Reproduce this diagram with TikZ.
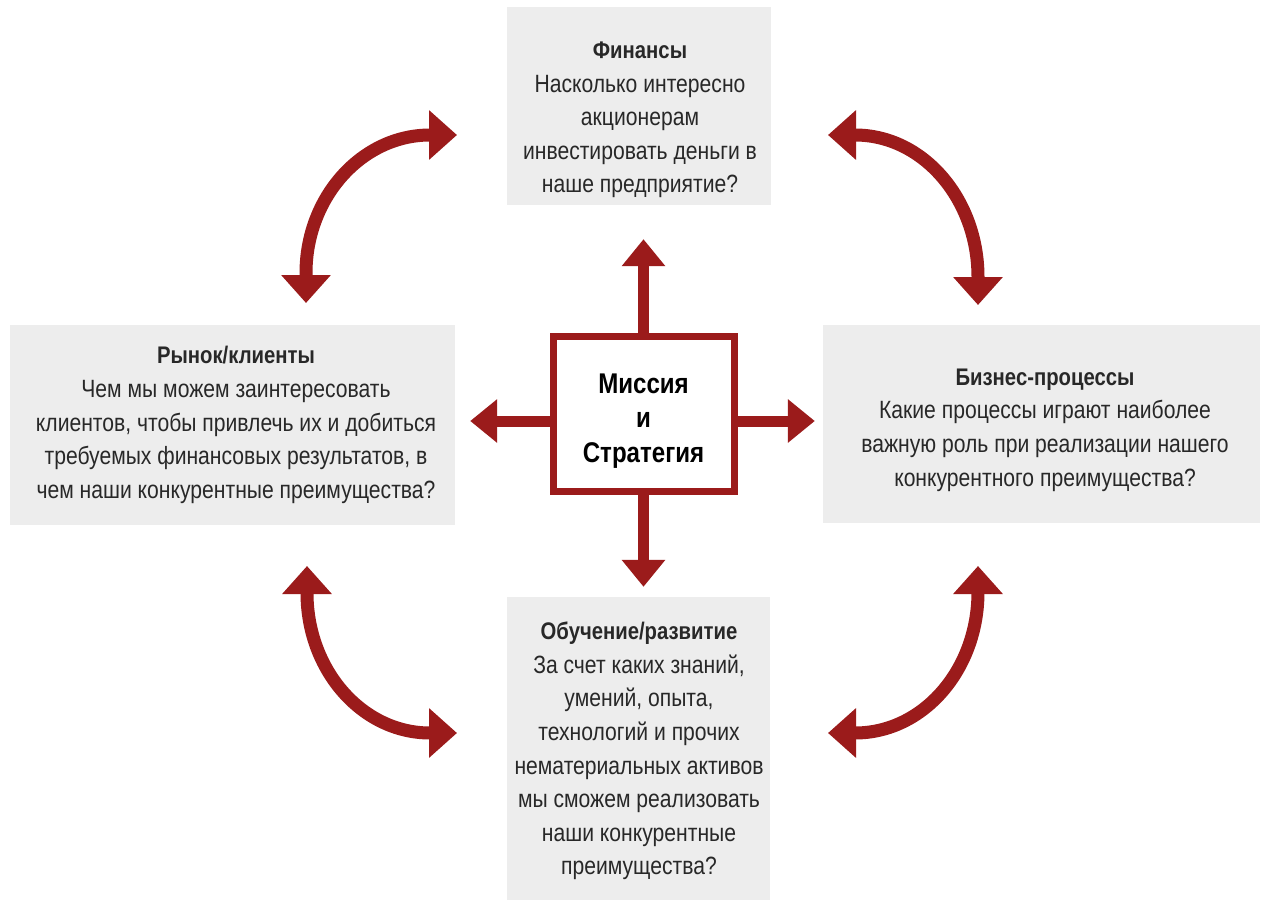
\documentclass[tikz,border=0pt]{standalone}
\usepackage{fontspec}
\setmainfont{Liberation Sans}[FakeStretch=0.845]
\usetikzlibrary{arrows.meta}
\definecolor{arrred}{RGB}{155,27,27}
\definecolor{boxgrey}{RGB}{237,237,237}
\definecolor{txtgrey}{RGB}{40,40,40}
\begin{document}
\begin{tikzpicture}[x=1pt,y=-1pt,
  box/.style={fill=boxgrey, draw=none, inner sep=0pt},
  txt/.style={align=center, text=txtgrey, font=\fontsize{25}{33.6}\selectfont, inner sep=0pt},
  missionbox/.style={draw=arrred, line width=7pt, fill=white, minimum width=181pt, minimum height=155pt},
  missiontxt/.style={align=center, inner sep=0pt, font=\fontsize{28.5}{34.5}\selectfont\bfseries, text=black},
  straight/.style={draw=arrred, line width=11pt, -{Triangle[width=42pt,length=27pt]}},
  curved/.style={draw=arrred, line width=13pt, {Triangle[width=48pt,length=28pt]}-{Triangle[width=48pt,length=28pt]}}
]
\useasboundingbox (0,0) rectangle (1264,908);
\fill[white] (0,0) rectangle (1264,908);

% grey boxes
\node[box, minimum width=264pt, minimum height=198pt] (fin) at (639,106) {};
\node[box, minimum width=445pt, minimum height=200pt] (mkt) at (232.5,425) {};
\node[box, minimum width=437pt, minimum height=198pt] (biz) at (1041.5,424) {};
\node[box, minimum width=263pt, minimum height=303pt] (edu) at (638.5,748.5) {};

% texts
\node[txt] (fint) at (640,120) {{\bfseries\fontsize{24}{33.6}\selectfont Финансы}\\Насколько интересно\\акционерам\\инвестировать деньги в\\наше предприятие?};
\node[txt] (mktt) at (236,425) {{\bfseries\fontsize{24}{33.6}\selectfont Рынок/клиенты}\\Чем мы можем заинтересовать\\клиентов, чтобы привлечь их и добиться\\требуемых финансовых результатов, в\\чем наши конкурентные преимущества?};
\node[txt] (bizt) at (1045,430) {{\bfseries\fontsize{24}{33.6}\selectfont Бизнес-процессы}\\Какие процессы играют наиболее\\важную роль при реализации нашего\\конкурентного преимущества?};
\node[txt] (edut) at (639,751) {{\bfseries\fontsize{24}{33.6}\selectfont Обучение/развитие}\\За счет каких знаний,\\умений, опыта,\\технологий и прочих\\нематериальных активов\\мы сможем реализовать\\наши конкурентные\\преимущества?};

% center
\node[missionbox] (mis) at (643.5,414) {};
\node[missiontxt] (mist) at (643.5,421) {Миссия\\и\\Стратегия};

% straight arrows
\draw[straight, shorten >=34pt] (mis.north) -- (mis.north |- fin.south);
\draw[straight, shorten >=10pt] (mis.south) -- (mis.south |- edu.north);
\draw[straight, shorten >=15pt] ([yshift=-7pt]mis.west) -- ([yshift=-7pt]mis.west -| mkt.east);
\draw[straight, shorten >=8pt] ([yshift=-7pt]mis.east) -- ([yshift=-7pt]mis.east -| biz.west);

% curved arrows
\coordinate (tlA) at (306,303); \coordinate (tlB) at (457,135);
\coordinate (trA) at (828,135); \coordinate (trB) at (978,305);
\coordinate (blA) at (307,566); \coordinate (blB) at (457,733);
\coordinate (brA) at (828,733); \coordinate (brB) at (978,566);

\draw[curved] (tlA) -- (306,273) .. controls (306,197) and (362,135) .. (430,135) -- (tlB);
\draw[curved] (trA) -- (855,135) .. controls (923,135) and (978,199) .. (978,277) -- (trB);
\draw[curved] (blA) -- (307,593) .. controls (307,670) and (362,733) .. (430,733) -- (blB);
\draw[curved] (brA) -- (855,733) .. controls (923,733) and (978,670) .. (978,592) -- (brB);
\end{tikzpicture}
\end{document}
